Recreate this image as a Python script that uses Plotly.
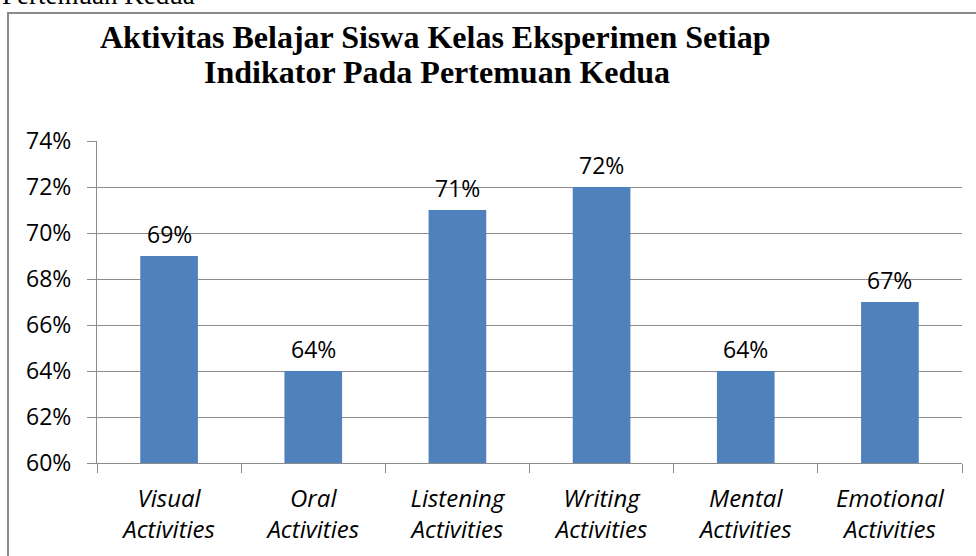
import plotly.graph_objects as go

categories = ["Visual Activities", "Oral Activities", "Listening Activities",
              "Writing Activities", "Mental Activities", "Emotional Activities"]
values = [0.69, 0.64, 0.71, 0.72, 0.64, 0.67]
title_lines = ["Aktivitas Belajar Siswa Kelas Eksperimen Setiap",
               "Indikator Pada Pertemuan Kedua"]
header_text = "Pertemuan Kedua"

W, H = 976, 556
L, R, T, B = 97, 14, 141, 93
pw, ph = W - L - R, H - T - B

def px_x(x):
    return (x - L) / pw

def px_y(y):
    return (H - B - y) / ph

BAR = "#4F81BD"
GRID = "#8c8c8c"
SANS = "Open Sans"
SERIF = "Liberation Serif"

fig = go.Figure(go.Bar(
    x=categories, y=values, marker=dict(color=BAR, line=dict(width=0)),
    hoverinfo="skip",
))

ticktext = ["<i>" + c.replace(" ", "<br>") + "</i>" for c in categories]

annotations = []
for c, v in zip(categories, values):
    annotations.append(dict(
        x=c, y=v, xref="x", yref="y", text=f"{round(v*100)}%",
        showarrow=False, yanchor="bottom", yshift=4,
        font=dict(family=SANS, size=23, color="#000"),
    ))

for line, cx, cy in zip(title_lines, (435, 437), (37, 72)):
    annotations.append(dict(
        x=px_x(cx), y=px_y(cy), xref="paper", yref="paper",
        text="<b>" + line + "</b>",
        showarrow=False, xanchor="center", yanchor="middle",
        font=dict(family=SERIF, size=32, color="#000"),
    ))
annotations.append(dict(
    x=px_x(0), y=px_y(12), xref="paper", yref="paper", text=header_text,
    showarrow=False, xanchor="left", yanchor="bottom",
    font=dict(family=SERIF, size=27, color="#000"),
))

fig.update_layout(
    width=W, height=H,
    margin=dict(l=L, r=R, t=T, b=B, pad=0),
    paper_bgcolor="white", plot_bgcolor="white",
    bargap=0.6, showlegend=False,
    annotations=annotations,
    shapes=[dict(
        type="rect", xref="paper", yref="paper",
        x0=px_x(8), x1=px_x(1200), y0=px_y(800), y1=px_y(13),
        line=dict(color="#8a8a8a", width=2), fillcolor="rgba(0,0,0,0)",
        layer="below",
    )],
    xaxis=dict(
        tickmode="array", tickvals=categories, ticktext=ticktext,
        tickson="boundaries", ticks="outside", ticklen=9, tickcolor=GRID,
        showline=True, linecolor=GRID, linewidth=1, showgrid=False,
        tickfont=dict(family=SANS, size=24, color="#000"),
        ticklabelstandoff=14,
        fixedrange=True,
    ),
    yaxis=dict(
        range=[0.60, 0.74], dtick=0.02, tick0=0.60, tickformat=".0%",
        ticks="outside", ticklen=9, tickcolor=GRID,
        showline=True, linecolor=GRID, linewidth=1,
        showgrid=True, gridcolor=GRID, gridwidth=1, zeroline=False,
        tickfont=dict(family=SANS, size=23, color="#000"),
        ticklabelstandoff=11,
        fixedrange=True,
    ),
)

fig.write_html("out.html", config={"displayModeBar": False},
               post_script="document.body.style.margin='0';")
